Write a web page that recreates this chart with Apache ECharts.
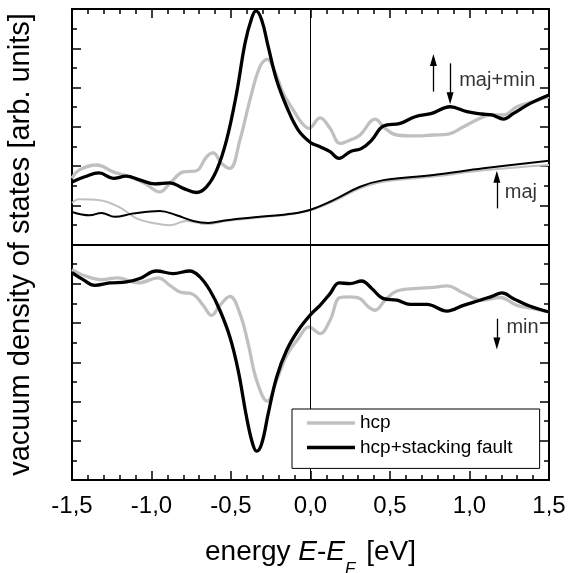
<!DOCTYPE html>
<html><head><meta charset="utf-8">
<script src="https://cdn.jsdelivr.net/npm/echarts@6/dist/echarts.min.js"></script>
<style>html,body{margin:0;padding:0;background:#fff}#c{width:569px;height:573px}</style>
</head><body><div id="c"></div><script>
// ---- data (energy in eV, DOS in arb. units; minority channel plotted negative) ----
const xTicks = [-1.5, -1.0, -0.5, 0.0, 0.5, 1.0, 1.5];

const sfMajMinE = [-1.5,-1.42,-1.33,-1.24,-1.16,-1.07,-0.98,-0.885,-0.80,-0.717,-0.654,-0.59,-0.528,-0.465,-0.412,-0.37,-0.343,-0.307,-0.266,-0.213,-0.15,-0.077,0.0,0.06,0.123,0.18,0.249,0.322,0.385,0.459,0.564,0.658,0.763,0.878,0.984,1.078,1.141,1.214,1.277,1.382,1.5];
const sfMajMinV = [3.19,3.45,3.65,3.37,3.48,3.28,3.09,3.14,2.86,2.65,2.94,3.79,5.32,7.70,10.25,11.53,11.9,11.44,10.08,8.38,7.02,5.83,5.2,4.98,4.73,4.39,4.73,4.90,5.32,6.04,6.17,6.51,6.68,7.02,6.77,6.65,6.60,6.39,6.68,7.19,7.62];

const hcpMajMinE = [-1.5,-1.456,-1.346,-1.24,-1.137,-1.04,-0.948,-0.885,-0.80,-0.717,-0.654,-0.612,-0.559,-0.507,-0.444,-0.381,-0.318,-0.272,-0.224,-0.171,-0.108,-0.055,-0.01,0.06,0.123,0.186,0.249,0.312,0.406,0.469,0.543,0.669,0.773,0.868,0.962,1.067,1.13,1.214,1.298,1.403,1.5];
const hcpMajMinV = [3.37,3.79,4.05,3.70,3.45,3.11,2.68,3.11,3.70,3.76,4.47,4.67,4.13,3.88,5.32,7.36,9.06,9.44,8.81,7.70,6.85,6.20,5.92,6.45,5.92,5.15,5.32,5.58,6.39,5.92,5.58,5.53,5.58,5.63,6.0,6.43,6.60,6.60,7.02,7.28,7.53];

const sfMajE = [-1.5,-1.389,-1.315,-1.231,-1.116,-0.948,-0.843,-0.738,-0.643,-0.528,-0.318,-0.108,0.0,0.144,0.312,0.459,0.773,1.088,1.5];
const sfMajV = [1.66,1.49,1.61,1.41,1.58,1.71,1.49,1.20,1.10,1.24,1.41,1.58,1.77,2.26,2.94,3.28,3.54,3.88,4.27];

const hcpMajE = [-1.5,-1.456,-1.326,-1.2,-1.095,-0.99,-0.885,-0.78,-0.654,-0.528,-0.318,-0.108,0.0,0.144,0.312,0.459,0.773,1.088,1.5];
const hcpMajV = [2.12,2.30,2.26,1.89,1.33,1.10,0.98,1.20,1.04,1.20,1.38,1.55,1.74,2.20,2.86,3.20,3.46,3.78,4.05];

const sfMinE = [-1.5,-1.43,-1.357,-1.263,-1.157,-1.074,-0.969,-0.864,-0.759,-0.696,-0.633,-0.57,-0.507,-0.455,-0.402,-0.364,-0.339,-0.307,-0.266,-0.213,-0.15,-0.077,0.003,0.06,0.123,0.18,0.249,0.322,0.385,0.459,0.543,0.627,0.732,0.858,0.962,1.067,1.141,1.204,1.277,1.382,1.5];
const sfMinV = [-1.43,-1.79,-2.08,-1.96,-1.91,-1.73,-1.35,-1.48,-1.35,-1.65,-2.33,-3.35,-4.71,-6.41,-8.80,-10.15,-10.53,-10.15,-8.62,-6.76,-5.39,-4.37,-3.55,-3.10,-2.50,-1.96,-1.99,-1.86,-2.24,-2.76,-2.84,-3.05,-3.05,-3.39,-3.10,-2.84,-2.64,-2.47,-2.76,-3.15,-3.44];

const hcpMinE = [-1.5,-1.41,-1.315,-1.21,-1.084,-0.958,-0.885,-0.822,-0.738,-0.675,-0.622,-0.57,-0.507,-0.444,-0.392,-0.339,-0.272,-0.213,-0.15,-0.077,-0.01,0.06,0.123,0.186,0.249,0.312,0.364,0.406,0.469,0.543,0.669,0.773,0.858,0.962,1.078,1.193,1.298,1.403,1.5];
const hcpMinV = [-1.28,-1.62,-1.79,-1.70,-1.96,-1.70,-2.08,-2.42,-2.54,-3.10,-3.61,-3.10,-2.64,-3.52,-5.05,-6.92,-7.98,-6.92,-5.65,-4.80,-4.20,-4.54,-3.86,-2.70,-2.67,-2.76,-3.18,-3.35,-2.84,-2.37,-2.24,-2.19,-2.11,-2.47,-2.84,-2.70,-3.10,-3.27,-3.44];

// annotation labels [energy, value, text]
const annotLabels = [[0.935, 8.38, 'maj+min'], [1.222, 2.63, 'maj'], [1.232, -4.23, 'min']];
// annotation arrows [energy, tailValue, headValue]
const annotArrows = [[0.773, 7.79, 9.40], [0.878, 9.23, 7.45], [1.172, 1.84, 3.45], [1.172, -3.78, -5.05]];

// ---- chart ----
const FONT = '"Liberation Sans", Arial, Helvetica, sans-serif';
const GRAY = '#c0c0c0', BLACK = '#000';
const zip = (e, v) => e.map((x, i) => [x, v[i]]);
const chart = echarts.init(document.getElementById('c'), null, {renderer: 'canvas'});

const fmt = v => v.toFixed(1).replace('.', ',');
function xAx(pos, show) {
  return {
    type: 'value', position: pos, min: xTicks[0], max: xTicks[xTicks.length - 1], interval: 0.5,
    axisLine: {show: true, onZero: false, lineStyle: {color: BLACK, width: 2}},
    axisTick: {show: true, inside: true, length: 9, lineStyle: {color: BLACK, width: 1.5}},
    minorTick: {show: true, splitNumber: 5, length: 5, lineStyle: {color: BLACK, width: 1.5}},
    splitLine: {show: false}, minorSplitLine: {show: false},
    axisLabel: {show: show, formatter: fmt, fontSize: 24, color: BLACK, fontFamily: FONT, margin: 14},
    name: show ? '{a|energy }{i|E}{a|-}{i|E}{s|F}{a| [eV]}' : '',
    nameLocation: 'middle', nameGap: 46,
    nameTextStyle: {
      rich: {
        a: {fontSize: 28, fontFamily: FONT, color: BLACK, lineHeight: 52},
        i: {fontSize: 28, fontFamily: FONT, fontStyle: 'italic', color: BLACK, lineHeight: 52},
        s: {fontSize: 17, fontFamily: FONT, fontStyle: 'italic', color: BLACK, lineHeight: 17, verticalAlign: 'bottom', padding: [0, 3, 0, 0]}
      }
    }
  };
}
function yAx(pos, show) {
  return {
    type: 'value', position: pos, min: -12, max: 12, interval: 2,
    axisLine: {show: true, onZero: false, lineStyle: {color: BLACK, width: 2}},
    axisTick: {show: true, inside: true, length: 9, lineStyle: {color: BLACK, width: 1.5}},
    minorTick: {show: true, splitNumber: 2, length: 5, lineStyle: {color: BLACK, width: 1.5}},
    splitLine: {show: false}, minorSplitLine: {show: false},
    axisLabel: {show: false},
    name: show ? 'vacuum density of states [arb. units]' : '',
    nameLocation: 'middle', nameRotate: 90, nameGap: 37,
    nameTextStyle: {fontSize: 29, fontFamily: FONT, color: BLACK}
  };
}
function lineSeries(name, e, v, color, width) {
  return {
    name: name, type: 'line', data: zip(e, v), smooth: 0.4, symbol: 'none', showSymbol: false,
    lineStyle: {color: color, width: width}, itemStyle: {color: color},
    emphasis: {disabled: true}, silent: true, z: 3
  };
}

const option = {
  animation: false,
  backgroundColor: '#fff',
  grid: {left: 72, top: 9, width: 477, height: 471, containLabel: false, outerBoundsMode: 'none'},
  xAxis: [xAx('bottom', true), xAx('top', false)],
  yAxis: [yAx('left', true), yAx('right', false)],
  legend: {
    data: ['hcp', 'hcp+stacking fault'], orient: 'vertical', left: 292, top: 409,
    padding: [4, 27, 11, 15], icon: 'rect', itemWidth: 48, itemHeight: 3.5, itemGap: 4.4,
    backgroundColor: '#fff', borderColor: BLACK, borderWidth: 1,
    textStyle: {fontSize: 19, lineHeight: 20, fontFamily: FONT, color: BLACK}, selectedMode: false, z: 10
  },
  series: [
    lineSeries('hcp', hcpMajMinE, hcpMajMinV, GRAY, 3.3),
    lineSeries('hcp', hcpMajE, hcpMajV, GRAY, 2),
    lineSeries('hcp', hcpMinE, hcpMinV, GRAY, 3.3),
    lineSeries('hcp+stacking fault', sfMajMinE, sfMajMinV, BLACK, 3.3),
    lineSeries('hcp+stacking fault', sfMajE, sfMajV, BLACK, 2),
    lineSeries('hcp+stacking fault', sfMinE, sfMinV, BLACK, 3.3),
    {
      name: 'zero', type: 'scatter', data: [[0, 0]], symbolSize: 0, silent: true,
      markLine: {
        silent: true, symbol: ['none', 'none'], label: {show: false}, animation: false,
        lineStyle: {color: BLACK, type: 'solid'},
        data: [{yAxis: 0, lineStyle: {width: 2, color: BLACK, type: 'solid'}},
               {xAxis: 0, lineStyle: {width: 1, color: BLACK, type: 'solid'}}]
      }, z: 2
    },
    {
      name: 'annot', type: 'scatter', data: annotLabels, symbolSize: 0, silent: true, z: 5,
      label: {show: true, position: 'right', distance: 0, formatter: p => p.data[2],
              fontSize: 20, fontFamily: FONT, color: BLACK},
      markLine: {
        silent: true, symbol: ['none', 'triangle'], symbolSize: [7, 12], label: {show: false},
        lineStyle: {color: BLACK, width: 1.3, type: 'solid'},
        data: annotArrows.map(a => [{coord: [a[0], a[1]]}, {coord: [a[0], a[2]]}])
      }
    }
  ]
};
chart.setOption(option);
</script></body></html>
